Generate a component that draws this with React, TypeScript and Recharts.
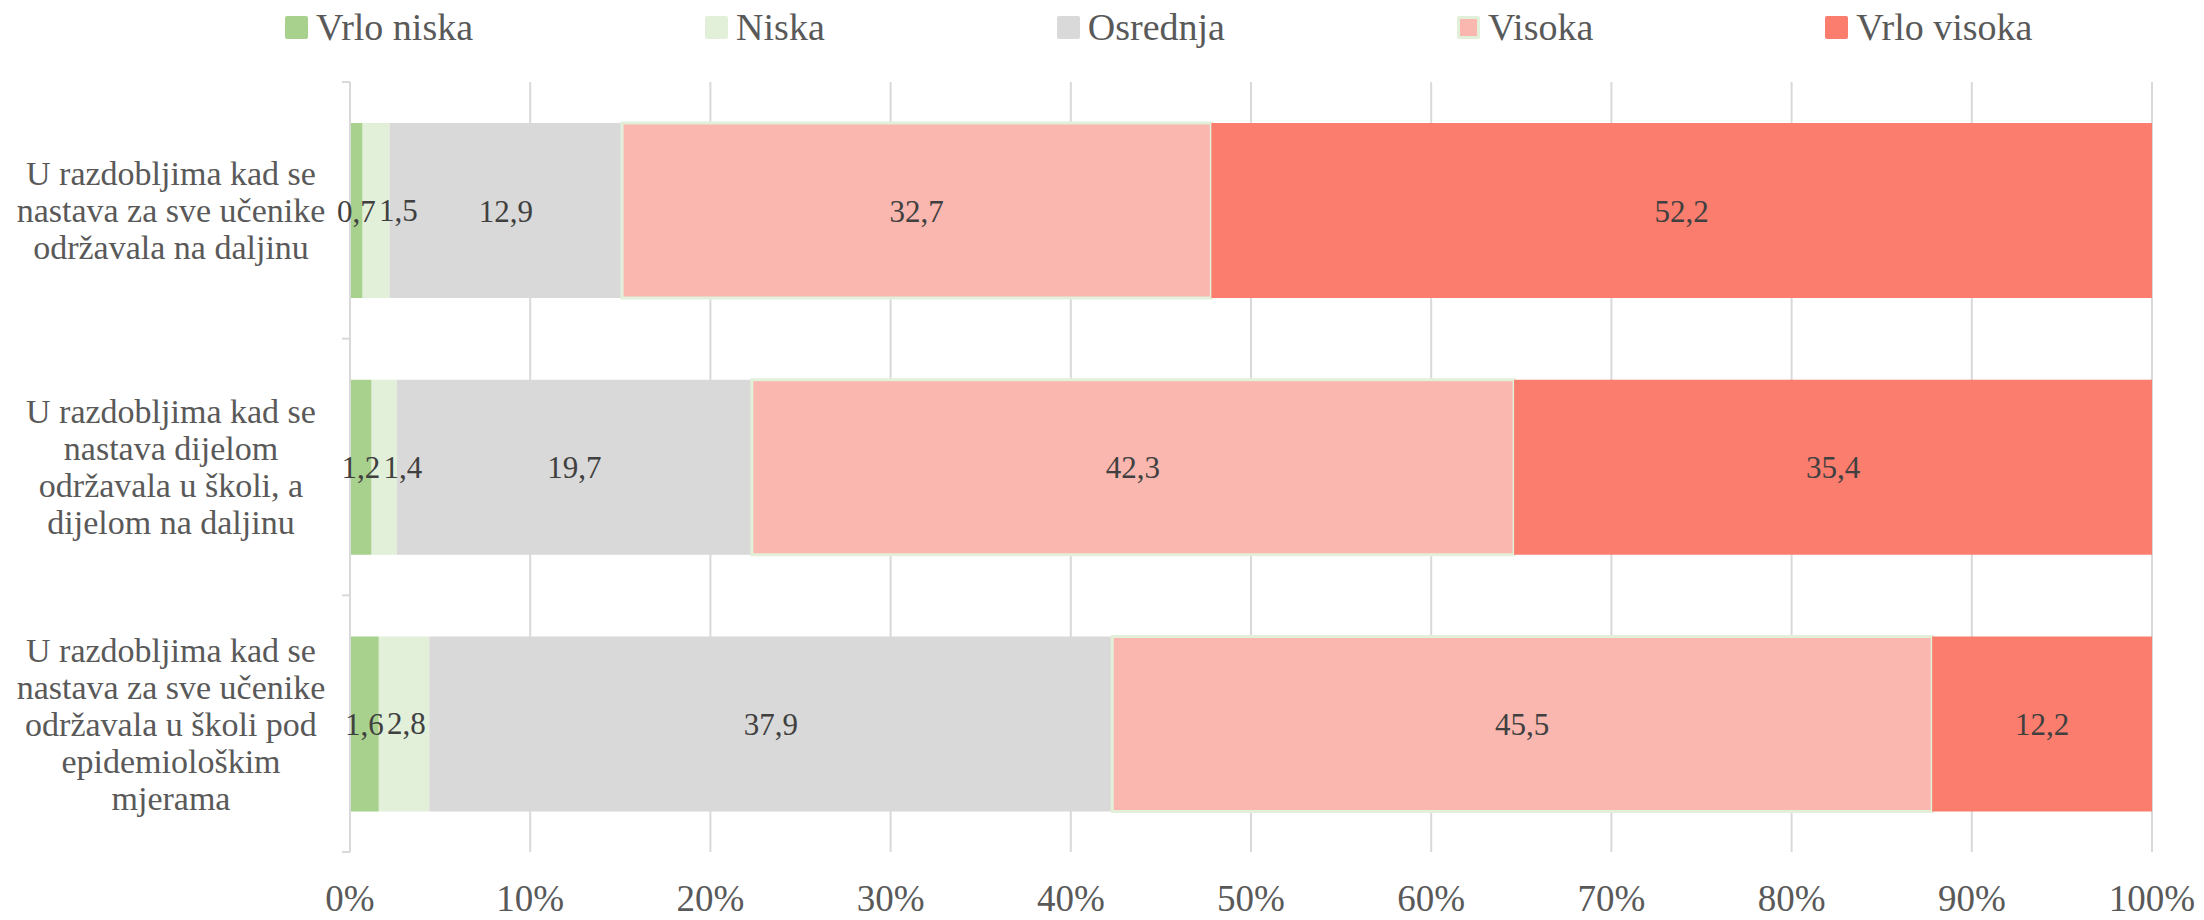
import React from "react";
import {
  BarChart,
  Bar,
  XAxis,
  YAxis,
  CartesianGrid,
  Legend,
  LabelList,
} from "recharts";

// kategorije (redovi), po retcima kako su prelomljeni u izvorniku
const categoryLines = [
  ["U razdobljima kad se", "nastava za sve učenike", "održavala na daljinu"],
  ["U razdobljima kad se", "nastava dijelom", "održavala u školi, a", "dijelom na daljinu"],
  ["U razdobljima kad se", "nastava za sve učenike", "održavala u školi pod", "epidemiološkim", "mjerama"],
];

const vrloNiska = [0.7, 1.2, 1.6];
const niska = [1.5, 1.4, 2.8];
const osrednja = [12.9, 19.7, 37.9];
const visoka = [32.7, 42.3, 45.5];
const vrloVisoka = [52.2, 35.4, 12.2];

const xTicks = [0, 10, 20, 30, 40, 50, 60, 70, 80, 90, 100];

const series = [
  { key: "vrloNiska", name: "Vrlo niska", color: "#a9d18e", stroke: "none" },
  { key: "niska", name: "Niska", color: "#e2efd9", stroke: "none" },
  { key: "osrednja", name: "Osrednja", color: "#d9d9d9", stroke: "none" },
  { key: "visoka", name: "Visoka", color: "#f9b7af", stroke: "#e2efd9" },
  { key: "vrloVisoka", name: "Vrlo visoka", color: "#fa7d6e", stroke: "none" },
];

const data = categoryLines.map((lines, i) => ({
  kat: lines.join(" "),
  vrloNiska: vrloNiska[i],
  niska: niska[i],
  osrednja: osrednja[i],
  visoka: visoka[i],
  vrloVisoka: vrloVisoka[i],
}));

const W = 2204;
const H = 920;
const MARGIN = { top: 82, right: 52, bottom: 0, left: 10 };
const X_AXIS_H = 68;
const BAND = (H - MARGIN.top - MARGIN.bottom - X_AXIS_H) / categoryLines.length;

const fmt = (v: number) => String(v).replace(".", ",");

function CategoryTick(props: any) {
  const { x, y, index } = props;
  const lines = categoryLines[index] || [];
  const lh = 37;
  const startY = y - ((lines.length - 1) * lh) / 2;
  return (
    <g>
      <line x1={x} x2={x - 8} y1={y - BAND / 2} y2={y - BAND / 2} stroke="#d9d9d9" strokeWidth={2} />
      {index === categoryLines.length - 1 && (
        <line x1={x} x2={x - 8} y1={y + BAND / 2} y2={y + BAND / 2} stroke="#d9d9d9" strokeWidth={2} />
      )}
      <text x={x - 179} y={startY} textAnchor="middle" fill="#595959" fontSize={34}>
        {lines.map((l, i) => (
          <tspan key={i} x={x - 179} dy={i === 0 ? "0.35em" : lh}>
            {l}
          </tspan>
        ))}
      </text>
    </g>
  );
}

// Niska: pomakni oznaku udesno ako se preklapa s oznakom "Vrlo niska"
function NiskaLabel(props: any) {
  const { x, y, width, height, value, index } = props;
  const perUnit = width / value;
  const prevCenter = x - (vrloNiska[index] * perUnit) / 2;
  let cx = x + width / 2;
  const minGap = 42;
  if (cx - prevCenter < minGap) cx = prevCenter + minGap;
  return (
    <text x={cx} y={y + height / 2} textAnchor="middle" dominantBaseline="central" fill="#404040" fontSize={31}>
      {fmt(value)}
    </text>
  );
}

function LegendContent() {
  return (
    <div style={{ display: "flex", alignItems: "center" }}>
      {series.map((s, i) => (
        <div
          key={s.key}
          style={{
            display: "flex",
            alignItems: "center",
            marginRight: i < series.length - 1 ? 232 : 0,
          }}
        >
          <span
            style={{
              display: "inline-block",
              width: 23,
              height: 23,
              boxSizing: "border-box",
              background: s.color,
              border: s.stroke !== "none" ? `3px solid ${s.stroke}` : "none",
              borderRadius: 2,
              marginRight: 8,
            }}
          />
          <span style={{ fontSize: 38, color: "#595959", lineHeight: "42px" }}>{s.name}</span>
        </div>
      ))}
    </div>
  );
}

export default function App() {
  return (
    <div
      style={{
        position: "absolute",
        left: 0,
        top: 0,
        width: W,
        height: H,
        background: "#ffffff",
        fontFamily: "'Liberation Serif', serif",
      }}
    >
      <BarChart
        width={W}
        height={H}
        data={data}
        layout="vertical"
        margin={MARGIN}
        barCategoryGap="16%"
      >
        <CartesianGrid horizontal={false} stroke="#d9d9d9" strokeWidth={2} />
        <XAxis
          type="number"
          domain={[0, 100]}
          ticks={xTicks}
          tickFormatter={(v) => `${v}%`}
          axisLine={false}
          tickLine={false}
          tickSize={0}
          tickMargin={33}
          height={X_AXIS_H}
          interval={0}
          tick={{ fill: "#595959", fontSize: 37 }}
        />
        <YAxis
          type="category"
          dataKey="kat"
          width={340}
          axisLine={{ stroke: "#d9d9d9", strokeWidth: 2 }}
          tickLine={false}
          tickSize={0}
          tickMargin={0}
          interval={0}
          tick={<CategoryTick />}
        />
        <Legend
          layout="horizontal"
          verticalAlign="middle"
          align="center"
          wrapperStyle={{ top: 6, left: 285, width: 1900, height: 42 }}
          content={<LegendContent />}
        />
        {series.map((s) => (
          <Bar
            key={s.key}
            dataKey={s.key}
            name={s.name}
            stackId="a"
            fill={s.color}
            stroke={s.stroke}
            strokeWidth={s.stroke !== "none" ? 3 : 0}
            isAnimationActive={false}
          >
            {s.key === "niska" ? (
              <LabelList dataKey={s.key} content={<NiskaLabel />} />
            ) : (
              <LabelList
                dataKey={s.key}
                position="center"
                formatter={(v: any) => fmt(v)}
                fill="#404040"
                fontSize={31}
              />
            )}
          </Bar>
        ))}
      </BarChart>
    </div>
  );
}
